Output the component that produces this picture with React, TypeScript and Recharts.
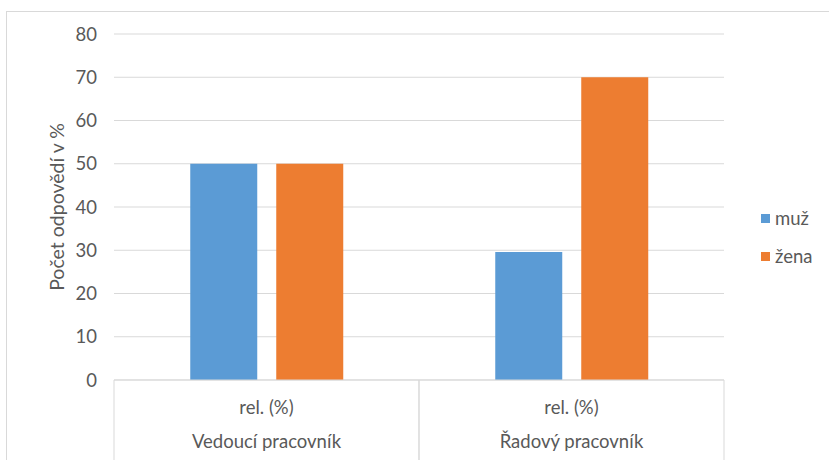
import React from "react";
import { BarChart, Bar, XAxis, YAxis, CartesianGrid } from "recharts";

// Podíl odpovědí podle pozice a pohlaví (v %)
const groups = ["Vedoucí pracovník", "Řadový pracovník"];
const subLabel = "rel. (%)";
const muz = [50, 29.6];
const zena = [50, 70];
const yTicks = [0, 10, 20, 30, 40, 50, 60, 70, 80];

const series = [
  { key: "muz", name: "muž", color: "#5B9BD5" },
  { key: "zena", name: "žena", color: "#ED7D31" },
];

const data = groups.map((g, i) => ({ name: g, muz: muz[i], zena: zena[i] }));

const FONT = "Lato, 'Liberation Sans', sans-serif";
const TEXT = "#595959";
const GRID = "#D9D9D9";
const FS = 18.5;

// Two-level category label with vertical separators between groups
function GroupTick(props: any) {
  const { x, y, payload } = props;
  const half = payload && payload.offset ? payload.offset : 152.5;
  const top = y - 8;
  return (
    <g>
      <line x1={x - half} y1={top} x2={x - half} y2={top + 80} stroke={GRID} />
      <line x1={x + half} y1={top} x2={x + half} y2={top + 80} stroke={GRID} />
      <text
        x={x}
        y={top + 27}
        textAnchor="middle"
        dominantBaseline="central"
        fill={TEXT}
        fontSize={FS}
        fontFamily={FONT}
      >
        {subLabel}
      </text>
      <text
        x={x}
        y={top + 61}
        textAnchor="middle"
        dominantBaseline="central"
        fill={TEXT}
        fontSize={FS}
        fontFamily={FONT}
      >
        {payload.value}
      </text>
    </g>
  );
}

function YTitle(props: any) {
  const vb = props.viewBox;
  const cx = vb.x + 12;
  const cy = vb.y + vb.height / 2;
  return (
    <text
      x={cx}
      y={cy}
      transform={`rotate(-90, ${cx}, ${cy})`}
      textAnchor="middle"
      dominantBaseline="central"
      fill={TEXT}
      fontSize={19.5}
      fontFamily={FONT}
    >
      Počet odpovědí v %
    </text>
  );
}

function LegendBox() {
  return (
    <div
      style={{
        position: "absolute",
        left: 761,
        top: 199,
        fontFamily: FONT,
        fontSize: FS,
        color: TEXT,
      }}
    >
      {series.map((s) => (
        <div
          key={s.key}
          style={{ display: "flex", alignItems: "center", height: 38 }}
        >
          <span
            style={{
              display: "inline-block",
              width: 9,
              height: 9,
              background: s.color,
              marginRight: 5,
            }}
          />
          <span>{s.name}</span>
        </div>
      ))}
    </div>
  );
}

export default function App() {
  return (
    <div
      style={{
        position: "absolute",
        left: 0,
        top: 0,
        width: 829,
        height: 460,
        overflow: "hidden",
        background: "#fff",
      }}
    >
      <div
        style={{
          position: "absolute",
          left: 6,
          top: 11,
          width: 900,
          height: 500,
          border: "1px solid #D9D9D9",
        }}
      />
      <BarChart
        width={829}
        height={460}
        data={data}
        margin={{ top: 34, right: 105, bottom: 0, left: 44 }}
        barCategoryGap="25%"
        barGap={19}
      >
        <CartesianGrid vertical={false} stroke={GRID} />
        <XAxis
          dataKey="name"
          height={80}
          axisLine={{ stroke: GRID }}
          tickLine={false}
          tick={<GroupTick />}
          interval={0}
        />
        <YAxis
          width={70}
          domain={[0, 80]}
          ticks={yTicks}
          axisLine={false}
          tickLine={false}
          tickMargin={11}
          tick={{ fill: TEXT, fontSize: FS, fontFamily: FONT }}
          label={<YTitle />}
        />
        {series.map((s) => (
          <Bar
            key={s.key}
            dataKey={s.key}
            name={s.name}
            fill={s.color}
            isAnimationActive={false}
          />
        ))}
      </BarChart>
      <LegendBox />
    </div>
  );
}
